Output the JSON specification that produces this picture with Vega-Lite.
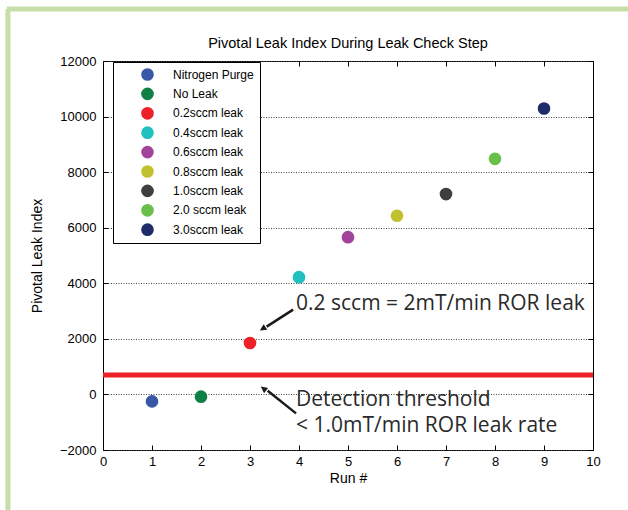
{
  "$schema": "https://vega.github.io/schema/vega-lite/v6.json",
  "autosize": "none",
  "width": 490,
  "height": 389,
  "padding": {"left": 103, "top": 61, "right": 35, "bottom": 60},
  "background": "white",
  "config": {
    "view": {"stroke": "black", "strokeWidth": 1},
    "font": "Liberation Sans",
    "axis": {"labelFont": "Liberation Sans", "titleFont": "Liberation Sans", "labelColor": "black", "titleColor": "black", "titleFontWeight": "normal", "tickColor": "black", "tickWidth": 1, "domain": false, "labelFlush": false}
  },
  "title": {"text": "Pivotal Leak Index During Leak Check Step", "fontSize": 14.5, "fontWeight": "normal", "font": "Liberation Sans", "color": "black", "offset": -45, "anchor": "middle", "frame": "group"},
  "datasets": {
    "runs": [
      {"run": 1, "index": -250, "series": "Nitrogen Purge"},
      {"run": 2, "index": -80, "series": "No Leak"},
      {"run": 3, "index": 1850, "series": "0.2sccm leak"},
      {"run": 4, "index": 4220, "series": "0.4sccm leak"},
      {"run": 5, "index": 5660, "series": "0.6sccm leak"},
      {"run": 6, "index": 6430, "series": "0.8sccm leak"},
      {"run": 7, "index": 7210, "series": "1.0sccm leak"},
      {"run": 8, "index": 8480, "series": "2.0 sccm leak"},
      {"run": 9, "index": 10290, "series": "3.0sccm leak"}
    ],
    "one": [{}]
  },
  "resolve": {"axis": {"x": "independent", "y": "independent"}},
  "layer": [
    {
      "data": {"name": "runs"},
      "mark": {"type": "point", "opacity": 0},
      "encoding": {
        "x": {"field": "run", "type": "quantitative", "scale": {"domain": [0, 10], "nice": false},
              "axis": {"orient": "bottom", "values": [0,1,2,3,4,5,6,7,8,9,10], "grid": false, "offset": -5, "tickSize": 5, "labelPadding": 5, "labelFontSize": 13, "title": "Run #", "titleFontSize": 14, "titlePadding": 3}},
        "y": {"field": "index", "type": "quantitative", "scale": {"domain": [-2000, 12000], "nice": false, "zero": false},
              "axis": {"orient": "left", "values": [-2000,0,2000,4000,6000,8000,10000,12000], "format": "d", "offset": -5, "tickSize": 5, "labelPadding": 7, "labelFontSize": 13, "title": "Pivotal Leak Index", "titleFontSize": 14, "titlePadding": 15,
                       "grid": true, "gridDash": [1, 1.5], "gridColor": "#444", "gridWidth": 1, "gridOpacity": 1}}
      }
    },
    {
      "data": {"name": "runs"},
      "mark": {"type": "point", "opacity": 0},
      "encoding": {
        "x": {"field": "run", "type": "quantitative", "axis": {"orient": "top", "values": [0,1,2,3,4,5,6,7,8,9,10], "grid": false, "offset": -5, "tickSize": 5, "labels": false, "title": null}},
        "y": {"field": "index", "type": "quantitative", "axis": {"orient": "right", "values": [-2000,0,2000,4000,6000,8000,10000,12000], "grid": false, "offset": -5, "tickSize": 5, "labels": false, "title": null}}
      }
    },
    {
      "data": {"name": "one"},
      "mark": {"type": "rule", "color": "#ee2028", "strokeWidth": 5},
      "encoding": {"y": {"datum": 700, "type": "quantitative", "axis": null}}
    },
    {
      "data": {"name": "runs"},
      "mark": {"type": "circle", "size": 160, "opacity": 1},
      "encoding": {
        "x": {"field": "run", "type": "quantitative", "axis": null},
        "y": {"field": "index", "type": "quantitative", "axis": null},
        "color": {"field": "series", "type": "nominal",
          "scale": {"domain": ["Nitrogen Purge","No Leak","0.2sccm leak","0.4sccm leak","0.6sccm leak","0.8sccm leak","1.0sccm leak","2.0 sccm leak","3.0sccm leak"],
                    "range": ["#3a57a7","#0f8045","#ee2028","#20bfc0","#a2449c","#c1c130","#3f3f3f","#6abf4b","#1f2c6a"]},
          "legend": {"title": null, "orient": "none", "legendX": 10, "legendY": 1, "strokeColor": "black", "fillColor": "white", "padding": 6,
                     "symbolType": "circle", "symbolSize": 160, "symbolStrokeWidth": 0, "symbolOffset": 22, "labelOffset": 19,
                     "labelFontSize": 12, "labelFont": "Liberation Sans", "labelColor": "black", "rowPadding": 6.4, "labelLimit": 200}}
      }
    },
    {
      "data": {"name": "one"},
      "mark": {"type": "rule", "color": "#1a1a1a", "strokeWidth": 2.5},
      "encoding": {"x": {"datum": 3.88, "axis": null}, "y": {"datum": 3052, "axis": null}, "x2": {"datum": 3.34}, "y2": {"datum": 2440}}
    },
    {
      "data": {"name": "one"},
      "mark": {"type": "point", "shape": "M0,0L0.5,1L-0.5,1Z", "filled": true, "color": "#1a1a1a", "opacity": 1, "size": 180, "angle": 237.5},
      "encoding": {"x": {"datum": 3.2, "axis": null}, "y": {"datum": 2298, "axis": null}}
    },
    {
      "data": {"name": "one"},
      "mark": {"type": "rule", "color": "#1a1a1a", "strokeWidth": 2.5},
      "encoding": {"x": {"datum": 3.94, "axis": null}, "y": {"datum": -682, "axis": null}, "x2": {"datum": 3.36}, "y2": {"datum": 130}}
    },
    {
      "data": {"name": "one"},
      "mark": {"type": "point", "shape": "M0,0L0.5,1L-0.5,1Z", "filled": true, "color": "#1a1a1a", "opacity": 1, "size": 180, "angle": 307.6},
      "encoding": {"x": {"datum": 3.22, "axis": null}, "y": {"datum": 287, "axis": null}}
    },
    {
      "data": {"name": "one"},
      "mark": {"type": "text", "text": "0.2 sccm = 2mT/min ROR leak", "font": "Open Sans", "fontSize": 21, "color": "#2a2a2a", "align": "left", "baseline": "alphabetic"},
      "encoding": {"x": {"datum": 3.94, "axis": null}, "y": {"datum": 3034, "axis": null}}
    },
    {
      "data": {"name": "one"},
      "mark": {"type": "text", "text": "Detection threshold", "font": "Open Sans", "fontSize": 21, "color": "#2a2a2a", "align": "left", "baseline": "alphabetic"},
      "encoding": {"x": {"datum": 3.94, "axis": null}, "y": {"datum": -420, "axis": null}}
    },
    {
      "data": {"name": "one"},
      "mark": {"type": "text", "text": "< 1.0mT/min ROR leak rate", "font": "Open Sans", "fontSize": 21, "color": "#2a2a2a", "align": "left", "baseline": "alphabetic"},
      "encoding": {"x": {"datum": 3.94, "axis": null}, "y": {"datum": -1354, "axis": null}}
    },
    {
      "data": {"name": "one"},
      "mark": {"type": "rule", "color": "#c6dfa9", "strokeWidth": 5},
      "encoding": {"x": {"datum": -1.96, "axis": null}, "x2": {"datum": 10.8}, "y": {"datum": 13870, "axis": null}}
    },
    {
      "data": {"name": "one"},
      "mark": {"type": "rule", "color": "#c6dfa9", "strokeWidth": 5},
      "encoding": {"x": {"datum": -1.94, "axis": null}, "y": {"datum": 13870, "axis": null}, "y2": {"datum": -4300}}
    }
  ]
}
